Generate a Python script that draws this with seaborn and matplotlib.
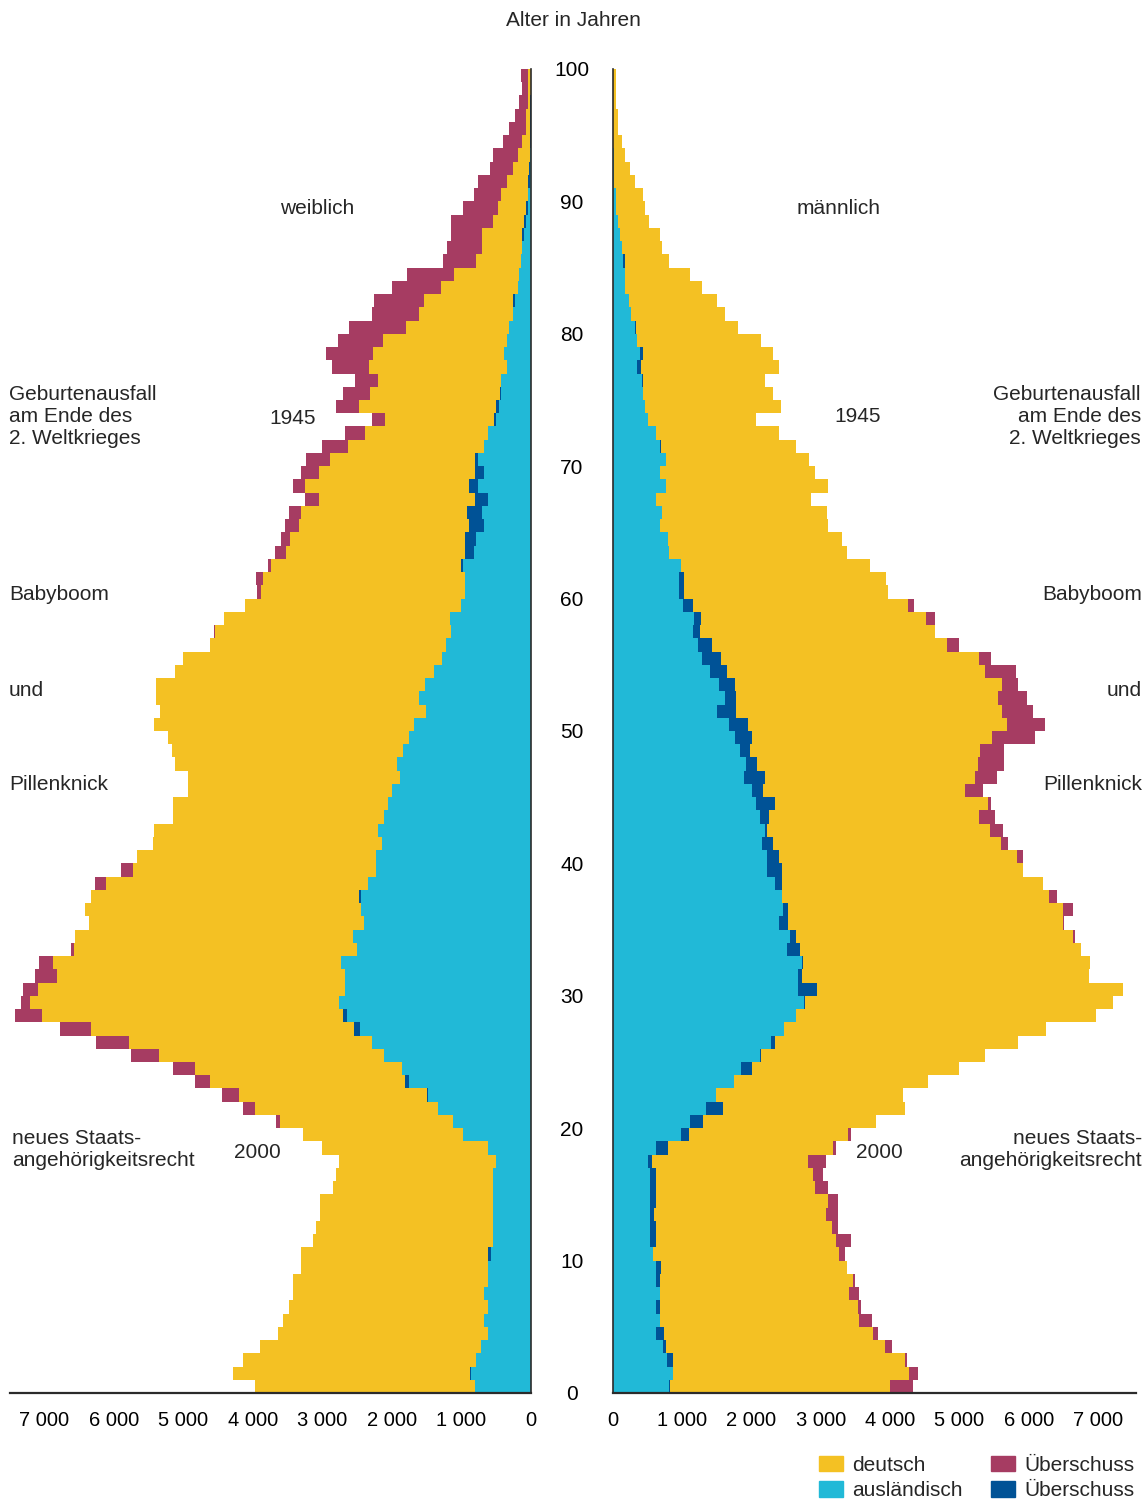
import matplotlib.pyplot as plt
import seaborn as sns
import numpy as np
from matplotlib.patches import Patch

# Altersjahre 0 bis 99, Personen je Altersjahr
alter = np.arange(100)

weiblich_gesamt = np.array([
    3975, 4280, 4140, 3890, 3640, 3560, 3480, 3415, 3415, 3310,
    3310, 3140, 3090, 3030, 3030, 2840, 2810, 2760, 3010, 3280,
    3665, 4140, 4440, 4830, 5140, 5750, 6250, 6775, 7415, 7330,
    7305, 7135, 7080, 6610, 6555, 6360, 6415, 6330, 6275, 5890,
    5665, 5440, 5415, 5140, 5140, 4925, 4925, 5115, 5165, 5225,
    5415, 5340, 5390, 5390, 5115, 5000, 4615, 4555, 4415, 4115,
    3940, 3950, 3785, 3675, 3590, 3535, 3480, 3255, 3425, 3310,
    3230, 3005, 2670, 2280, 2810, 2700, 2530, 2865, 2950, 2780,
    2615, 2280, 2255, 2005, 1785, 1260, 1205, 1150, 1150, 980,
    815, 760, 595, 540, 400, 315, 230, 175, 125, 150])

weiblich_ausl = np.array([
    810, 870, 785, 725, 620, 680, 620, 680, 620, 620,
    620, 540, 540, 540, 540, 540, 540, 510, 620, 980,
    1115, 1340, 1490, 1815, 1850, 2115, 2280, 2540, 2700, 2755,
    2670, 2670, 2725, 2505, 2560, 2395, 2450, 2475, 2340, 2230,
    2230, 2145, 2200, 2115, 2060, 2005, 1890, 1920, 1840, 1755,
    1675, 1505, 1615, 1530, 1395, 1280, 1225, 1150, 1165, 1010,
    950, 950, 1005, 950, 950, 895, 920, 810, 895, 810,
    810, 675, 620, 535, 505, 440, 425, 340, 390, 340,
    315, 260, 260, 190, 175, 150, 125, 125, 95, 70,
    40, 40, 25, 20, 15, 12, 10, 8, 6, 6])

maennlich_gesamt = np.array([
    4325, 4405, 4240, 4025, 3830, 3745, 3580, 3550, 3495, 3385,
    3355, 3440, 3245, 3245, 3245, 3105, 3025, 3080, 3220, 3430,
    3800, 4215, 4190, 4545, 4990, 5365, 5840, 6255, 6975, 7220,
    7360, 6865, 6890, 6755, 6675, 6505, 6640, 6415, 6210, 5925,
    5925, 5705, 5625, 5515, 5455, 5345, 5540, 5650, 5650, 6095,
    6230, 6065, 5980, 5840, 5815, 5455, 4990, 4655, 4655, 4350,
    3965, 3940, 3715, 3385, 3300, 3110, 3085, 2860, 3110, 2915,
    2835, 2640, 2390, 2065, 2420, 2305, 2200, 2390, 2305, 2140,
    1805, 1615, 1505, 1285, 1115, 815, 705, 675, 515, 455,
    430, 315, 240, 180, 125, 65, 65, 40, 40, 40])

maennlich_ausl = np.array([
    830, 865, 865, 765, 730, 675, 675, 675, 675, 700,
    575, 615, 615, 590, 615, 615, 615, 565, 790, 1090,
    1305, 1585, 1480, 1750, 2005, 2130, 2340, 2465, 2640, 2775,
    2940, 2725, 2750, 2695, 2640, 2525, 2525, 2440, 2440, 2440,
    2390, 2305, 2230, 2255, 2340, 2165, 2195, 2080, 1975, 2000,
    1945, 1780, 1780, 1755, 1645, 1565, 1425, 1260, 1265, 1155,
    1030, 1030, 975, 815, 790, 675, 705, 625, 760, 680,
    760, 690, 625, 505, 455, 430, 430, 405, 430, 350,
    330, 265, 230, 180, 180, 180, 125, 100, 65, 50,
    40, 15, 10, 8, 6, 5, 4, 3, 2, 2])

achsen_ticks = [0, 1000, 2000, 3000, 4000, 5000, 6000, 7000]
alters_ticks = [0, 10, 20, 30, 40, 50, 60, 70, 80, 90, 100]

GELB = "#F4C123"
CYAN = "#21B9D7"
MAGENTA = "#A63C62"
BLAU = "#005296"
DUNKEL = "#2b2b2b"

weiblich_dt = weiblich_gesamt - weiblich_ausl
maennlich_dt = maennlich_gesamt - maennlich_ausl
gemeinsam_ausl = np.minimum(weiblich_ausl, maennlich_ausl)
gemeinsam_dt = np.minimum(weiblich_dt, maennlich_dt)

sns.set_theme(style="white")
plt.rcParams["font.family"] = ["Liberation Sans", "DejaVu Sans"]

W, H = 1147, 1501
fig = plt.figure(figsize=(W / 100, H / 100), dpi=100)
ax_l = fig.add_axes([10 / W, 108 / H, 521 / W, 1324 / H])
ax_r = fig.add_axes([613 / W, 108 / H, 523 / W, 1324 / H])


def schicht(ax, werte, farbe):
    sns.barplot(x=werte, y=alter + 0.5, orient="h", native_scale=True,
                width=1, color=farbe, saturation=1, errorbar=None,
                linewidth=0, ax=ax)


# Schichten von außen nach innen übereinander legen
for ax, ausl, dt in [(ax_l, weiblich_ausl, weiblich_dt),
                     (ax_r, maennlich_ausl, maennlich_dt)]:
    schicht(ax, ausl + dt, MAGENTA)
    schicht(ax, ausl + gemeinsam_dt, GELB)
    schicht(ax, ausl, BLAU)
    schicht(ax, gemeinsam_ausl, CYAN)

ax_l.set_xlim(7490, 0)
ax_r.set_xlim(0, 7550)

tick_labels = [f"{v:,}".replace(",", " ") for v in achsen_ticks]
for ax in (ax_l, ax_r):
    ax.set_ylim(0, 100)
    ax.set_xlabel("")
    ax.set_ylabel("")
    ax.set_xticks(achsen_ticks)
    ax.set_xticklabels(tick_labels)
    ax.tick_params(axis="x", length=0, pad=13, labelsize=14.5, colors="black")
    ax.spines["top"].set_visible(False)
    ax.spines["bottom"].set_color(DUNKEL)
    ax.spines["bottom"].set_linewidth(1.6)
    ax.set_facecolor("none")

ax_l.spines["left"].set_visible(False)
ax_l.spines["right"].set_color(DUNKEL)
ax_l.spines["right"].set_linewidth(1.2)
ax_l.set_yticks([])

ax_r.spines["right"].set_visible(False)
ax_r.spines["left"].set_color(DUNKEL)
ax_r.spines["left"].set_linewidth(1.2)
ax_r.set_yticks(alters_ticks)
ax_r.set_yticklabels([str(a) for a in alters_ticks])
ax_r.tick_params(axis="y", length=0, pad=29.5, labelsize=15, colors="black")
for lab in ax_r.get_yticklabels():
    lab.set_ha("center")


def txt(px, py, s, ha="left", **kw):
    fig.text(px / W, 1 - py / H, s, ha=ha, va="center", fontsize=15,
             multialignment=ha, linespacing=1.2, **kw)


txt(573, 21, "Alter in Jahren", ha="center")
txt(317, 208, "weiblich", ha="center")
txt(839, 208, "männlich", ha="center")
txt(9, 416, "Geburtenausfall\nam Ende des\n2. Weltkrieges")
txt(1141, 416, "Geburtenausfall\nam Ende des\n2. Weltkrieges", ha="right")
txt(293, 418, "1945", ha="center")
txt(858, 417, "1945", ha="center")
txt(9, 595, "Babyboom")
txt(1142, 595, "Babyboom", ha="right")
txt(9, 691, "und")
txt(1142, 691, "und", ha="right")
txt(9, 785, "Pillenknick")
txt(1142, 785, "Pillenknick", ha="right")
txt(12, 1149, "neues Staats-\nangehörigkeitsrecht")
txt(1142, 1149, "neues Staats-\nangehörigkeitsrecht", ha="right")
txt(257, 1152, "2000", ha="center")
txt(879, 1152, "2000", ha="center")

handles = [Patch(color=GELB), Patch(color=CYAN), Patch(color=MAGENTA), Patch(color=BLAU)]
fig.legend(handles, ["deutsch", "ausländisch", "Überschuss", "Überschuss"],
           ncol=2, frameon=False, loc="upper left",
           bbox_to_anchor=(819 / W, 1 - 1456 / H), fontsize=15,
           handlelength=1.15, handleheight=0.75, handletextpad=0.45,
           labelspacing=0.3, columnspacing=1.35, borderpad=0, borderaxespad=0)

fig.savefig("out.png", dpi=100)
